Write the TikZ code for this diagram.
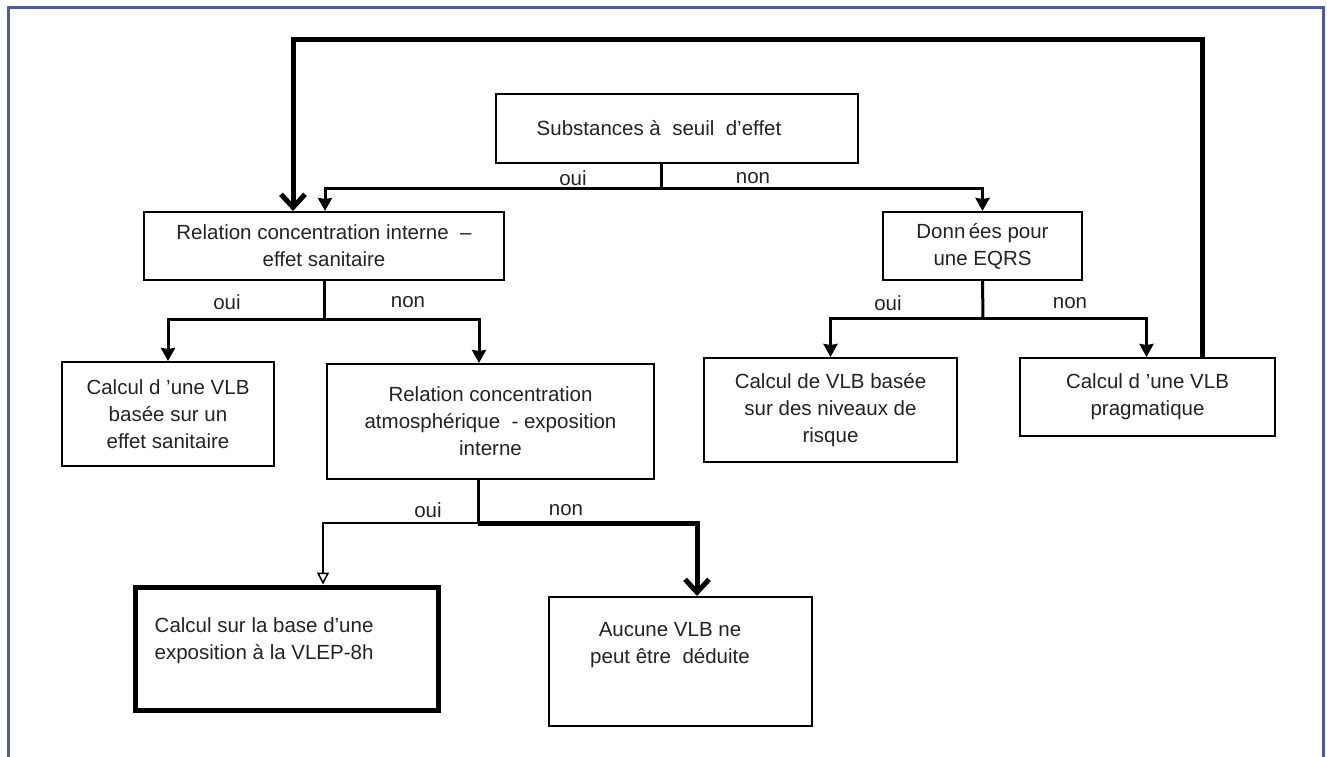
\documentclass[tikz,border=0pt]{standalone}
\usepackage{fontspec}
\setmainfont{Liberation Sans}
\usetikzlibrary{arrows.meta}

\definecolor{cadre}{RGB}{80,88,168}
\definecolor{encre}{RGB}{35,35,35}

\tikzset{
  boite/.style={draw, line width=2pt, align=center, inner sep=0pt, text=encre},
  lbl/.style={inner sep=0pt, text=encre},
  trait/.style={line width=3pt},
  lien/.style={line width=3pt, -{Stealth[width=14pt,length=13pt,inset=1pt]}},
  retour/.style={line width=5pt, -{Straight Barb[width=24pt,length=13pt]}},
  fin/.style={line width=1.5pt, -{Triangle[open,width=12pt,length=12pt]}},
}

\begin{document}
\begin{tikzpicture}[x=1pt, y=-1pt,
    every node/.append style={font=\fontsize{20.5}{27}\selectfont}]
  \useasboundingbox (0,0) rectangle (1327,757);
  % cadre bleu
  \draw[cadre, line width=3pt] (8,757) -- (8,8) -- (1323,8) -- (1323,757);

  % boites
  \node[boite, minimum width=362pt, minimum height=69pt,
    label={[lbl, xshift=-18pt]center:Substances à\ \ seuil\ \ d’effet}] (subst) at (677,128.5) {};
  \node[boite, minimum width=360pt, minimum height=68pt] (relint) at (324,246)
    {Relation concentration interne\ \ –\\effet sanitaire};
  \node[boite, minimum width=199pt, minimum height=68pt] (donnees) at (982.5,246)
    {Donn\,ées pour\\une EQRS};
  \node[boite, minimum width=212pt, minimum height=104pt] (vlbsan) at (168,414)
    {Calcul d ’une VLB\\basée sur un\\effet sanitaire};
  \node[boite, minimum width=327pt, minimum height=115pt] (relatm) at (490.5,421.5)
    {Relation concentration\\atmosphérique\ \ - exposition\\interne};
  \node[boite, minimum width=253pt, minimum height=104pt] (niveaux) at (830.5,410)
    {Calcul de VLB basée\\sur des niveaux de\\risque};
  \node[boite, minimum width=255pt, minimum height=78pt] (pragma) at (1147.5,397)
    {Calcul d ’une VLB\\pragmatique};
  \node[boite, line width=5pt, minimum width=303pt, minimum height=123pt,
    label={[lbl, anchor=west, align=left, xshift=22pt, yshift=7.5pt]west:Calcul sur la base d’une\\exposition à la VLEP-8h}] (vlep) at (286.5,648.5) {};
  \node[boite, minimum width=263pt, minimum height=129pt,
    label={[lbl, align=center, xshift=-10.5pt, yshift=16.5pt]center:Aucune VLB ne\\peut être\ \ déduite}] (aucune) at (680.5,661.5) {};

  % embranchements
  \coordinate (j1) at (661,188);
  \coordinate (j2) at (324,319);
  \coordinate (j3) at (478,523);
  \coordinate (j4) at (983,318);
  \coordinate (fbR) at (1202,40);
  \coordinate (fbL) at (293,40);

  \draw[trait] (subst.south -| j1) -- (j1);
  \draw[lien] (j1) -| ([xshift=1pt]relint.north);
  \draw[lien] (j1) -| (donnees.north);
  \node[lbl] (oui1) at (573,178) {oui};
  \node[lbl] (non1) at (753,178) {non};

  \draw[trait] (relint.south) -- (j2);
  \draw[lien] (j2) -| (vlbsan.north);
  \draw[lien] (j2) -| ([xshift=-11.5pt]relatm.north);
  \node[lbl] (oui2) at (227,302) {oui};
  \node[lbl] (non2) at (408,302) {non};

  \draw[trait] (donnees.south) -- (j4);
  \draw[lien] (j4) -| (niveaux.north);
  \draw[lien] (j4) -| ([xshift=-1pt]pragma.north);
  \node[lbl] (oui3) at (888,303) {oui};
  \node[lbl] (non3) at (1070,303) {non};

  \draw[trait] (relatm.south -| j3) -- (j3);
  \draw[fin] (j3) -| ([xshift=36.5pt]vlep.north);
  \draw[retour] (j3) -| ([xshift=16.5pt]aucune.north);
  \node[lbl] (oui4) at (428,510) {oui};
  \node[lbl] (non4) at (566,510) {non};

  % retour vers la relation interne
  \draw[retour] (pragma.north -| fbR) -- (fbR) -- (fbL) -- (relint.north -| fbL);
\end{tikzpicture}
\end{document}
